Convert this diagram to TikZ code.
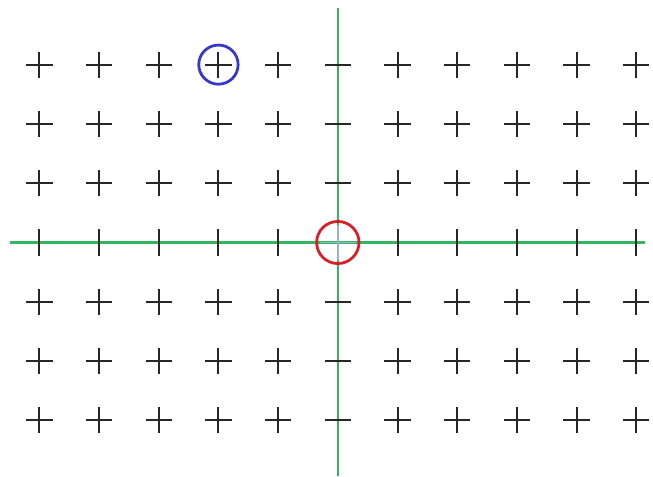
\documentclass[tikz,border=0pt]{standalone}
\usepackage{tikz}
\usetikzlibrary{calc}
\definecolor{axisgreen}{RGB}{52,182,96}
\definecolor{markred}{RGB}{214,32,36}
\definecolor{markblue}{RGB}{56,56,200}
\definecolor{ink}{RGB}{38,38,38}
\definecolor{paleblue}{RGB}{150,180,215}

\begin{document}
\begin{tikzpicture}[x=1.5cm,y=1.49cm,
    tick/.style={ink,line width=1.4pt},
    axisline/.style={axisgreen,line width=1.6pt},
    ring/.style={line width=2pt}]
  \useasboundingbox (-5.66,-3.95) rectangle (5.28,4.09);
  % axes
  \draw[axisline] (-5.49,0) -- (5.14,0);
  \draw[axisline] (0,-3.93) -- (0,3.96);
  % grid of crosses
  \foreach \i in {-5,...,5} {
    \foreach \j in {-3,...,3} {
      \ifnum\j=0
        \ifnum\i=0\else
          \draw[tick] (\i,-0.22) -- (\i,0.22);
        \fi
      \else
        \ifnum\i=0
          \draw[tick] (-0.22,\j) -- (0.22,\j);
        \else
          \draw[tick] (\i-0.22,\j) -- (\i+0.22,\j) (\i,\j-0.22) -- (\i,\j+0.22);
        \fi
      \fi
    }
  }
  % origin
  \draw[paleblue,line width=1pt] (-0.3,0) -- (0.3,0) (0,-0.3) -- (0,0.3);
  \draw[markred,ring] (0,0) circle (0.355);
  \draw[markblue,ring] (-2,3) circle (0.33);
\end{tikzpicture}
\end{document}
